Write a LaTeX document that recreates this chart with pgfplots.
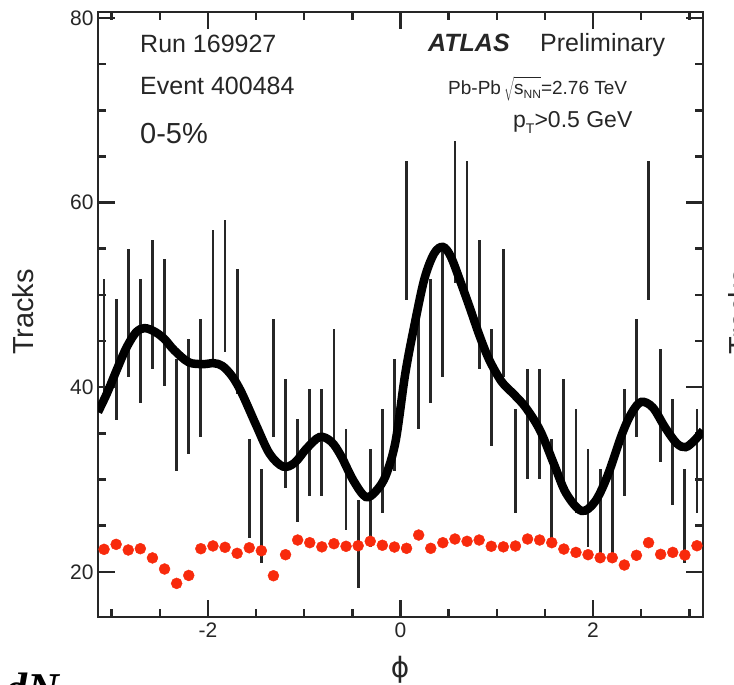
\documentclass[border=0pt]{standalone}
\usepackage{fontspec}
\setmainfont{Liberation Sans}
\newfontfamily\dejavu{DejaVu Sans}
\newfontfamily\serifbi{Liberation Serif}
\usepackage{xcolor}
\definecolor{atlasred}{HTML}{F82A0C}
\definecolor{ink}{HTML}{262626}
\usepackage{pgfplots}
\usepackage{pgfplotstable}
\pgfplotsset{compat=1.18}
\newcommand{\fs}[1]{\fontsize{#1}{#1}\selectfont}

% phi bin centre, track count, sqrt(count)
\pgfplotstableread{
x y e
-3.0788 45 6.71
-2.9531 43 6.56
-2.8274 48 6.93
-2.7018 45 6.71
-2.5761 49 7.00
-2.4504 47 6.86
-2.3248 37 6.08
-2.1991 39 6.24
-2.0735 41 6.40
-1.9478 50 7.07
-1.8221 51 7.14
-1.6965 46 6.78
-1.5708 29 5.39
-1.4451 26 5.10
-1.3195 41 6.40
-1.1938 35 5.92
-1.0681 31 5.57
-0.9425 34 5.83
-0.8168 34 5.83
-0.6912 40 6.32
-0.5655 30 5.48
-0.4398 23 4.80
-0.3142 28 5.29
-0.1885 32 5.66
-0.0628 37 6.08
0.0628 57 7.55
0.1885 42 6.48
0.3142 45 6.71
0.4398 48 6.93
0.5655 59 7.68
0.6912 57 7.55
0.8168 49 7.00
0.9425 40 6.32
1.0681 48 6.93
1.1938 32 5.66
1.3195 36 6.00
1.4451 36 6.00
1.5708 29 5.39
1.6965 35 5.92
1.8221 32 5.66
1.9478 28 5.29
2.0735 26 5.10
2.1991 26 5.10
2.3248 34 5.83
2.4504 41 6.40
2.5761 57 7.55
2.7018 38 6.16
2.8274 33 5.74
2.9531 26 5.10
3.0788 32 5.66
}\tracks

% average background per bin
\pgfplotstableread{
x y
-3.0788 22.43
-2.9531 22.97
-2.8274 22.36
-2.7018 22.50
-2.5761 21.50
-2.4504 20.30
-2.3248 18.74
-2.1991 19.60
-2.0735 22.50
-1.9478 22.80
-1.8221 22.65
-1.6965 22.00
-1.5708 22.60
-1.4451 22.28
-1.3195 19.57
-1.1938 21.85
-1.0681 23.44
-0.9425 23.15
-0.8168 22.70
-0.6912 23.04
-0.5655 22.76
-0.4398 22.82
-0.3142 23.30
-0.1885 22.87
-0.0628 22.68
0.0628 22.54
0.1885 23.98
0.3142 22.54
0.4398 23.15
0.5655 23.55
0.6912 23.30
0.8168 23.44
0.9425 22.76
1.0681 22.70
1.1938 22.79
1.3195 23.55
1.4451 23.44
1.5708 23.15
1.6965 22.46
1.8221 22.10
1.9478 21.85
2.0735 21.52
2.1991 21.52
2.3248 20.73
2.4504 21.78
2.5761 23.15
2.7018 21.89
2.8274 22.10
2.9531 21.81
3.0788 22.82
}\bkg

\begin{document}
\begin{tikzpicture}
\useasboundingbox (0,0) rectangle (734pt,685pt);
\clip (0,0) rectangle (734pt,685pt);
\begin{axis}[
    at={(98pt,68pt)}, anchor=south west,
    width=605pt, height=605pt, scale only axis,
    xmin=-3.1416, xmax=3.1416, ymin=15.1, ymax=80.65,
    xtick={-2,0,2}, ytick={20,40,60,80},
    minor xtick={-3,-2.5,...,3}, minor ytick={20,25,...,80},
    major tick length=17pt, minor tick length=8pt,
    every tick/.style={line width=2.5pt, ink},
    axis line style={line width=2.8pt, ink},
    /pgf/number format/assume math mode=true,
    ticklabel style={font=\fs{21}, text=ink},
    xticklabel style={yshift=-2pt},
    yticklabel style={xshift=-1pt},
  ]
  \addplot[draw=none, mark=none, forget plot,
    error bars/.cd, y dir=both, y explicit, error mark=none,
    error bar style={draw=ink, line width=2.8pt}]
    table[x=x, y=y, y error=e] {\tracks};
  \addplot[black, line width=8.5pt, smooth, tension=0.55] coordinates {
    (-3.1416,37.3) (-3.05,39.3) (-2.95,41.8) (-2.85,44.2) (-2.75,45.9)
    (-2.66,46.4) (-2.55,46.0) (-2.45,45.2) (-2.35,44.0) (-2.20,42.7)
    (-2.05,42.5) (-1.94,42.6) (-1.85,42.3) (-1.75,41.2) (-1.65,39.4)
    (-1.50,35.9) (-1.36,32.8) (-1.22,31.4) (-1.10,31.8) (-0.98,33.3)
    (-0.84,34.6) (-0.72,34.1) (-0.62,32.6) (-0.49,29.9) (-0.36,28.1)
    (-0.25,28.8) (-0.15,30.5) (-0.05,34.2) (0.05,41.5) (0.15,47.0)
    (0.25,51.8) (0.35,54.5) (0.44,55.2) (0.52,54.2) (0.62,51.5)
    (0.72,48.6) (0.82,45.6) (0.92,43.0) (1.05,40.6) (1.18,39.2)
    (1.30,37.8) (1.45,35.3) (1.60,31.5) (1.72,28.5) (1.88,26.6)
    (2.02,27.6) (2.15,30.4) (2.30,34.9) (2.40,37.2) (2.50,38.4)
    (2.62,37.8) (2.75,35.6) (2.87,33.9) (2.96,33.5) (3.05,34.2)
    (3.1416,35.3)
  };
  \addplot[only marks, mark=*, mark size=5.5pt, color=atlasred]
    table[x=x, y=y] {\bkg};
\end{axis}

% labels and event info
\node[rotate=90, anchor=north, inner sep=0pt, text=ink, font=\fs{29}] at (12pt,373pt) {Tracks};
\node[rotate=90, anchor=north, inner sep=0pt, text=ink, font=\fs{29}] at (728pt,373pt) {Tracks};
\node[inner sep=0pt, text=ink, font=\dejavu\fs{28}] at (400pt,15pt) {ϕ};
\node[anchor=base west, inner sep=0pt, font=\serifbi\bfseries\itshape\fs{44}] at (5pt,-19pt) {dN};

\node[anchor=base west, inner sep=0pt, text=ink, font=\fs{25}] at (140pt,632.7pt) {Run 169927};
\node[anchor=base west, inner sep=0pt, text=ink, font=\fs{25}] at (140pt,590.7pt) {Event 400484};
\node[anchor=base west, inner sep=0pt, text=ink, font=\fs{29}] at (140pt,541pt) {0-5\%};
\node[anchor=base west, inner sep=0pt, text=ink, font=\bfseries\itshape\fs{25}] at (428pt,633.3pt) {ATLAS};
\node[anchor=base west, inner sep=0pt, text=ink, font=\fs{25}] at (540pt,633.3pt) {Preliminary};
\node[anchor=base west, inner sep=0pt, text=ink, font=\fs{19}] at (448pt,590pt)
  {Pb-Pb\,$\sqrt{\rule[-4pt]{0pt}{19pt}\hbox{s\raisebox{-0.35ex}{\fs{12}NN}}}$=2.76 TeV};
\node[anchor=base west, inner sep=0pt, text=ink, font=\fs{23}] at (513pt,557pt)
  {p\raisebox{-0.45ex}{\fs{14}T}>0.5 GeV};
\end{tikzpicture}
\end{document}
